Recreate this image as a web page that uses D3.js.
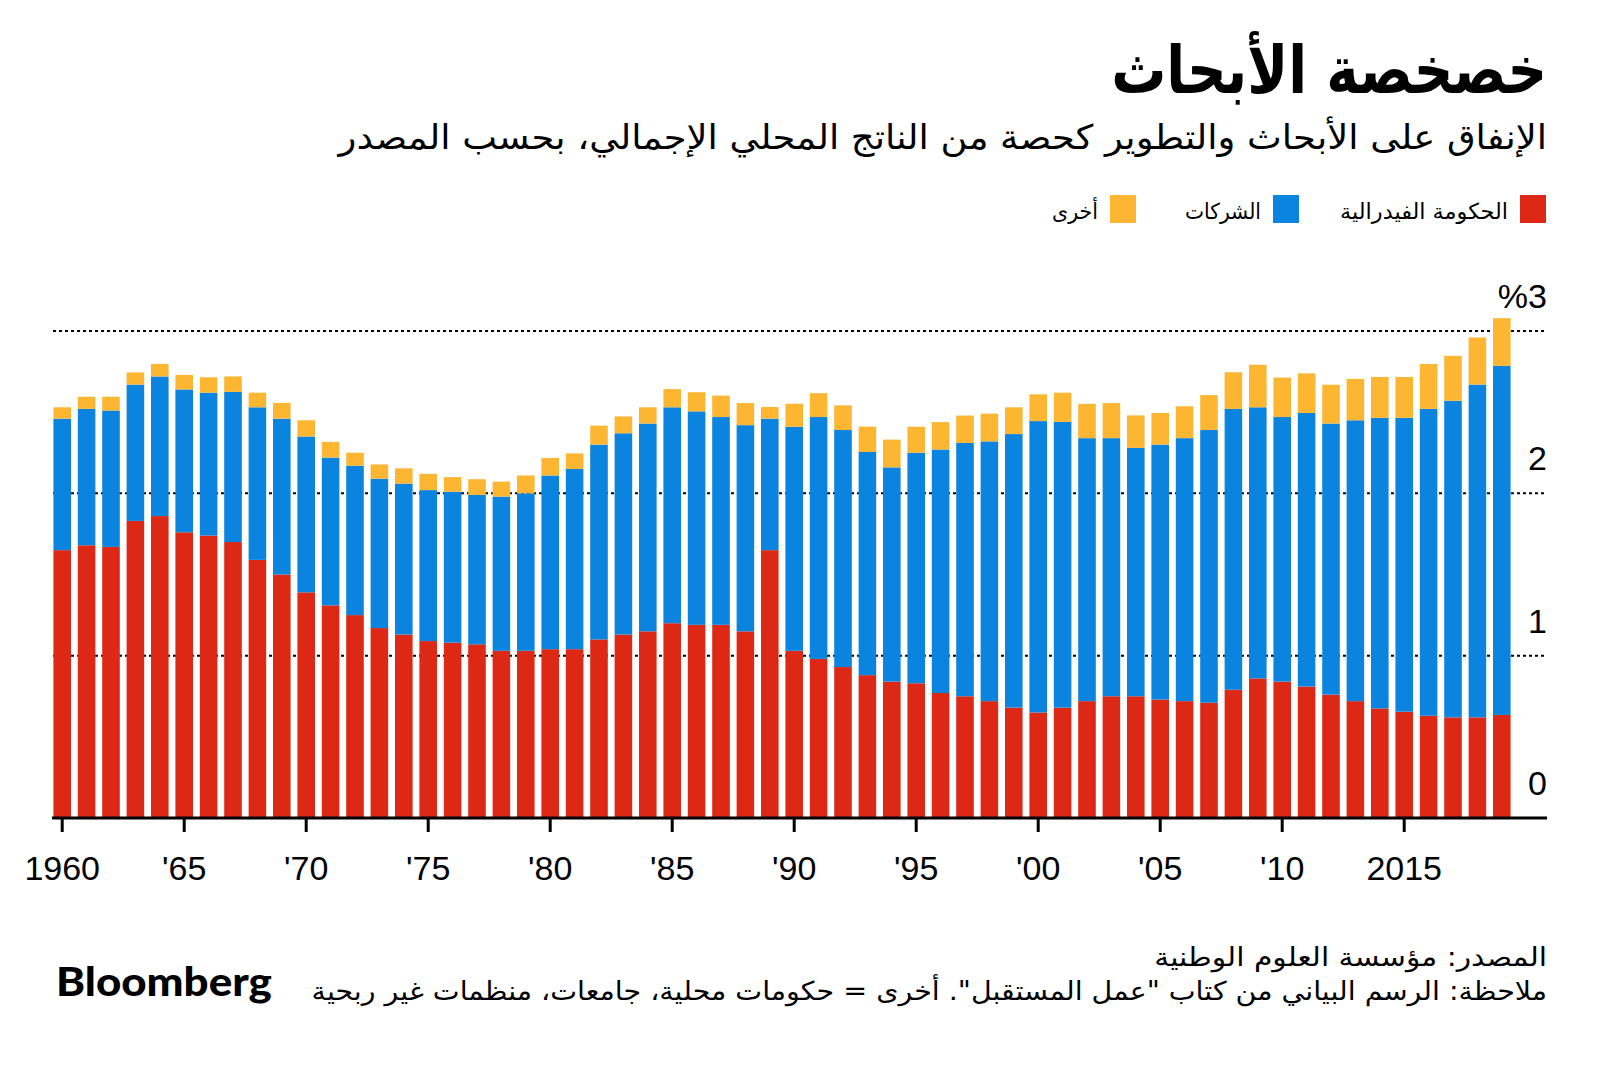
<!DOCTYPE html>
<html>
<head>
<meta charset="utf-8">
<script src="https://cdn.jsdelivr.net/npm/d3@7"></script>
<style>
  html, body { margin: 0; padding: 0; background: #fff; }
  svg { display: block; }
  .ar { font-family: "DejaVu Sans", "Noto Sans", sans-serif; }
  .num { font-family: "Liberation Sans", Arial, sans-serif; }
</style>
</head>
<body>
<svg id="chart" width="1600" height="1069"></svg>
<script>
// ---- Data ----
const years = [1960,1961,1962,1963,1964,1965,1966,1967,1968,1969,
               1970,1971,1972,1973,1974,1975,1976,1977,1978,1979,
               1980,1981,1982,1983,1984,1985,1986,1987,1988,1989,
               1990,1991,1992,1993,1994,1995,1996,1997,1998,1999,
               2000,2001,2002,2003,2004,2005,2006,2007,2008,2009,
               2010,2011,2012,2013,2014,2015,2016,2017,2018,2019];

const federal = [1.65,1.68,1.67,1.83,1.86,1.76,1.74,1.70,1.59,1.50,
                 1.39,1.31,1.25,1.17,1.13,1.09,1.08,1.07,1.03,1.03,
                 1.04,1.04,1.10,1.13,1.15,1.20,1.19,1.19,1.15,1.65,
                 1.03,0.98,0.93,0.88,0.84,0.83,0.77,0.75,0.72,0.68,
                 0.65,0.68,0.72,0.75,0.75,0.73,0.72,0.71,0.79,0.86,
                 0.84,0.81,0.76,0.72,0.675,0.655,0.63,0.62,0.62,0.635];

const business = [0.81,0.84,0.84,0.84,0.86,0.88,0.88,0.925,0.94,0.96,
                  0.96,0.91,0.92,0.92,0.93,0.93,0.93,0.92,0.95,0.97,
                  1.07,1.11,1.20,1.24,1.28,1.33,1.315,1.28,1.27,0.81,
                  1.38,1.49,1.46,1.375,1.32,1.42,1.50,1.56,1.60,1.685,
                  1.795,1.76,1.62,1.59,1.53,1.57,1.62,1.68,1.73,1.67,
                  1.63,1.685,1.67,1.73,1.79,1.81,1.89,1.95,2.05,2.15];

const other = [0.07,0.075,0.085,0.075,0.077,0.09,0.095,0.095,0.09,0.097,
               0.10,0.097,0.08,0.088,0.094,0.10,0.09,0.097,0.092,0.11,
               0.108,0.096,0.117,0.104,0.10,0.112,0.118,0.132,0.136,0.072,
               0.142,0.147,0.152,0.156,0.171,0.16,0.169,0.169,0.171,0.165,
               0.165,0.18,0.211,0.216,0.20,0.195,0.196,0.215,0.226,0.262,
               0.243,0.244,0.239,0.255,0.252,0.252,0.277,0.277,0.29,0.294];

const seriesKeys   = ["federal", "business", "other"];
const seriesNames  = ["الحكومة الفيدرالية", "الشركات", "أخرى"];
const seriesColors = ["#dc2814", "#0b84df", "#fcb632"];

const xTickYears  = [1960,1965,1970,1975,1980,1985,1990,1995,2000,2005,2010,2015];
const xTickLabels = ["1960","'65","'70","'75","'80","'85","'90","'95","'00","'05","'10","2015"];
const yTicks      = [0, 1, 2, 3];
const yTickLabels = ["0", "1", "2", "%3"];

const title    = "خصخصة الأبحاث";
const subtitle = "الإنفاق على الأبحاث والتطوير كحصة من الناتج المحلي الإجمالي، بحسب المصدر";
const source   = "المصدر: مؤسسة العلوم الوطنية";
const note     = "ملاحظة: الرسم البياني من كتاب \"عمل المستقبل\". أخرى = حكومات محلية، جامعات، منظمات غير ربحية";

// ---- Build ----
const rows = years.map((yr, i) => ({ year: yr, federal: federal[i], business: business[i], other: other[i] }));
const stacked = d3.stack().keys(seriesKeys)(rows);

const svg = d3.select("#chart");
const left = 50, right = 1514, plotRight = 1547;

const x = d3.scaleBand().domain(years).range([left, right]).paddingInner(0.28).paddingOuter(0.14);
const y = d3.scaleLinear().domain([0, 3]).range([818, 331]);

// Right-aligned text fitted horizontally to a target width (via transform)
function fitText(str, xr, yb, size, width, weight) {
  const t = svg.append("text").attr("class", "ar")
    .attr("x", 0).attr("y", 0)
    .attr("text-anchor", "end")
    .attr("font-size", size)
    .attr("font-weight", weight || "normal")
    .attr("fill", "#000")
    .text(str);
  const len = t.node().getComputedTextLength();
  const sx = width / len;
  t.attr("transform", `translate(${xr},${yb}) scale(${sx},1)`);
  return t;
}

// Title & subtitle
fitText(title, plotRight, 93, 66, 436, "bold");
fitText(subtitle, plotRight, 149, 34, 1209);

// Legend
const legendPos = [
  { sx: 1520, tx: 1508, tw: 168 },
  { sx: 1273, tx: 1261, tw: 76 },
  { sx: 1110, tx: 1098, tw: 46 }
];
seriesKeys.forEach((k, i) => {
  svg.append("rect").attr("x", legendPos[i].sx).attr("y", 195).attr("width", 26).attr("height", 28)
    .attr("fill", seriesColors[i]);
  fitText(seriesNames[i], legendPos[i].tx, 219, 22, legendPos[i].tw);
});

// Gridlines (dotted)
svg.append("g").selectAll("line")
  .data(yTicks.filter(d => d > 0))
  .join("line")
  .attr("x1", 53).attr("x2", plotRight)
  .attr("y1", d => y(d)).attr("y2", d => y(d))
  .attr("stroke", "#000").attr("stroke-width", 2)
  .attr("stroke-dasharray", "3,3");

// Bars
svg.append("g").selectAll("g")
  .data(stacked)
  .join("g")
  .attr("fill", (d, i) => seriesColors[i])
  .selectAll("rect")
  .data(d => d)
  .join("rect")
  .attr("x", d => x(d.data.year))
  .attr("width", x.bandwidth())
  .attr("y", d => y(d[1]))
  .attr("height", d => y(d[0]) - y(d[1]));

// Baseline
svg.append("line")
  .attr("x1", 52).attr("x2", plotRight)
  .attr("y1", y(0)).attr("y2", y(0))
  .attr("stroke", "#000").attr("stroke-width", 3);

// X axis ticks & labels
const xAxis = d3.axisBottom(x)
  .tickValues(xTickYears)
  .tickSize(14)
  .tickPadding(24)
  .tickFormat((d, i) => xTickLabels[i]);
const gx = svg.append("g").attr("transform", `translate(0,${y(0)})`).call(xAxis);
gx.select(".domain").remove();
gx.selectAll(".tick line").attr("stroke", "#000").attr("stroke-width", 3);
gx.selectAll(".tick text")
  .attr("class", "num")
  .attr("font-family", "'Liberation Sans', Arial, sans-serif")
  .attr("font-size", 34).attr("fill", "#000");

// Y labels (right side, above gridlines)
svg.append("g").selectAll("text")
  .data(yTicks)
  .join("text")
  .attr("class", "num")
  .attr("x", plotRight)
  .attr("y", d => y(d) - 23)
  .attr("text-anchor", "end")
  .attr("font-size", 34)
  .attr("fill", "#000")
  .text((d, i) => yTickLabels[i]);

// Footer
fitText(source, plotRight, 966, 26, 393);
fitText(note, plotRight, 1000, 26, 1236);

const bl = svg.append("text")
  .attr("x", 0).attr("y", 0)
  .attr("font-family", "Lato, 'Liberation Sans', Arial, sans-serif")
  .attr("font-weight", 900).attr("font-size", 40)
  .attr("fill", "#000")
  .text("Bloomberg");
const blLen = bl.node().getComputedTextLength();
bl.attr("transform", `translate(56,996) scale(${216 / blLen},1)`);
</script>
</body>
</html>
